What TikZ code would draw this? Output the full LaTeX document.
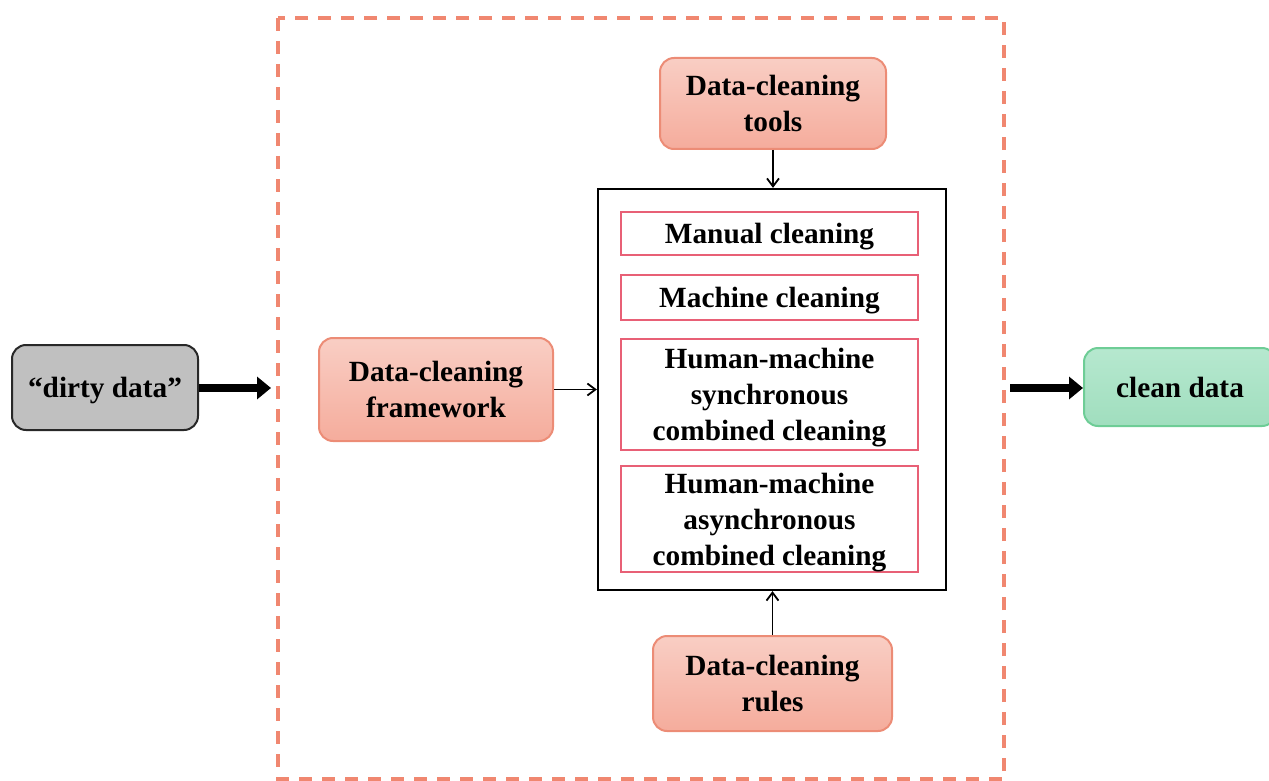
\documentclass[tikz,border=0pt]{standalone}
\usepackage{fontspec}
\setmainfont{Liberation Serif}
\usetikzlibrary{arrows.meta}
\definecolor{salmonB}{RGB}{236,140,118}
\definecolor{salmonT}{RGB}{249,206,196}
\definecolor{salmonM}{RGB}{245,172,156}
\definecolor{dashC}{RGB}{240,135,112}
\definecolor{crim}{RGB}{232,96,118}
\definecolor{greenB}{RGB}{110,205,150}
\definecolor{greenT}{RGB}{182,232,207}
\definecolor{greenM}{RGB}{160,222,190}
\definecolor{grayF}{RGB}{192,192,192}
\definecolor{grayB}{RGB}{40,40,40}
\tikzset{
  txt/.style={font=\bfseries\fontsize{29.3}{36}\selectfont, align=center, text=black, inner sep=0pt, text depth=0pt},
  salbox/.style={txt, rounded corners=14pt, draw=salmonB, line width=2pt, top color=salmonT, bottom color=salmonM},
  innerbox/.style={txt, draw=crim, line width=2pt, fill=white},
  thickarrow/.style={line width=8pt, -{Triangle[length=14pt,width=22pt]}},
  thinarrow/.style={line width=1.8pt, -{Straight Barb[length=8pt,width=12pt]}},
}
\begin{document}
\begin{tikzpicture}[x=1pt,y=-1pt]
\useasboundingbox (0,0) rectangle (1269,781);
\clip (0,0) rectangle (1269,781);
% dashed frame
\draw[dashC, line width=4pt, dash pattern=on 13pt off 10pt] (278,18) rectangle (1004,779);
% dirty data
\node[txt, draw=grayB, fill=grayF, line width=2pt, rounded corners=14pt, minimum width=186pt, minimum height=85pt] (dirty) at (105,387.5) {“dirty data”};
% framework
\node[salbox, minimum width=234pt, minimum height=103pt] (frame) at (436,389.5) {Data-cleaning\\framework};
% tools
\node[salbox, minimum width=226pt, minimum height=91pt] (tools) at (773,103.5) {Data-cleaning\\tools};
% rules
\node[salbox, minimum width=239pt, minimum height=95pt] (rules) at (772.5,683.5) {Data-cleaning\\rules};
% big box
\node[draw=black, line width=2.2pt, fill=white, minimum width=348pt, minimum height=401pt, inner sep=0pt] (big) at (772,389.5) {};
% inner boxes
\node[innerbox, minimum width=297pt, minimum height=43pt] (manual) at (769.5,233.5) {Manual cleaning};
\node[innerbox, minimum width=297pt, minimum height=45pt] (machine) at (769.5,297.5) {Machine cleaning};
\node[innerbox, minimum width=297pt, minimum height=111pt] (sync) at (769.5,394.5) {Human-machine\\synchronous\\combined cleaning};
\node[innerbox, minimum width=297pt, minimum height=106pt] (async) at (769.5,519) {Human-machine\\asynchronous\\combined cleaning};
% clean data
\node[txt, draw=greenB, line width=2pt, rounded corners=14pt, top color=greenT, bottom color=greenM, minimum width=192pt, minimum height=78pt] (clean) at (1180,387) {clean data};
% arrows
\coordinate (inL) at (271,388);
\coordinate (outR) at (1010,388);
\draw[thickarrow] (dirty.east |- inL) -- (inL);
\draw[thickarrow] (outR) -- (clean.west |- outR);
\draw[thinarrow] (frame.east) -- (big.west |- frame.east);
\draw[thinarrow] (tools.south) -- (big.north -| tools.south);
\draw[thinarrow] (rules.north) -- (big.south -| rules.north);
\end{tikzpicture}
\end{document}
